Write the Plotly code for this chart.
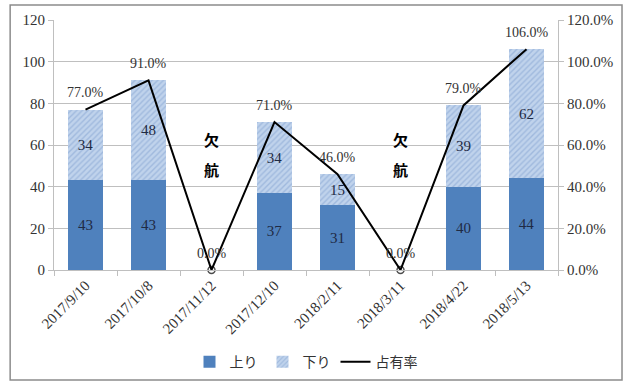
import plotly.graph_objects as go

categories = ["2017/9/10", "2017/10/8", "2017/11/12", "2017/12/10",
              "2018/2/11", "2018/3/11", "2018/4/22", "2018/5/13"]
up = [43, 43, None, 37, 31, None, 40, 44]
down = [34, 48, None, 34, 15, None, 39, 62]
share = [0.77, 0.91, 0.0, 0.71, 0.46, 0.0, 0.79, 1.06]
cancel_chars = ["欠", "航"]

serif = "Liberation Serif, DejaVu Serif, Noto Sans CJK JP, serif"
jp = "Noto Sans CJK JP, sans-serif"

fig = go.Figure()
fig.add_trace(go.Bar(
    x=categories, y=up, name="上り",
    marker=dict(color="#4f81bd", line=dict(width=0)),
    text=[str(v) if v else "" for v in up], textposition="inside",
    insidetextanchor="middle", textangle=0,
    textfont=dict(family=serif, size=15, color="#1f2a44"),
))
fig.add_trace(go.Bar(
    x=categories, y=down, name="下り",
    marker=dict(color="#a9c2e3", line=dict(width=0),
                pattern=dict(shape="/", fgcolor="#7fa0cf", bgcolor="#c0d3ec",
                             size=4, solidity=0.35)),
    text=[str(v) if v else "" for v in down], textposition="inside",
    insidetextanchor="middle", textangle=0,
    textfont=dict(family=serif, size=15, color="#1f2a44"),
))
fig.add_trace(go.Scatter(
    x=categories, y=share, name="占有率", yaxis="y2",
    mode="lines+markers", showlegend=False,
    line=dict(color="black", width=2),
    marker=dict(symbol="circle-open", color="black",
                size=[7 if v == 0 else 0 for v in share], line=dict(width=1.5)),
    cliponaxis=False,
))
fig.add_trace(go.Scatter(
    x=[None], y=[None], name="占有率", yaxis="y2", mode="lines",
    line=dict(color="black", width=2),
))

for c, v in zip(categories, share):
    fig.add_annotation(x=c, y=v, yref="y2", text=f"{v*100:.1f}%", showarrow=False,
                       yshift=17, font=dict(family=serif, size=14, color="#333333"))

for i, u in enumerate(up):
    if u is None:
        for k, ch in enumerate(cancel_chars):
            fig.add_annotation(x=categories[i], y=62.5, text=ch, showarrow=False,
                               yshift=-30 * k,
                               font=dict(family=jp, size=15, color="black", weight="bold"))

fig.add_shape(type="rect", xref="paper", yref="paper",
              x0=-0.087, x1=1.127, y0=-0.44, y1=1.06,
              line=dict(color="#8c8c8c", width=1.5), layer="below")

fig.update_layout(
    width=630, height=385,
    margin=dict(l=54, r=72, t=20, b=115, autoexpand=False),
    barmode="stack", bargap=0.43,
    plot_bgcolor="white", paper_bgcolor="white",
    font=dict(family=serif, size=14, color="#333333"),
    showlegend=True,
    legend=dict(orientation="h", x=0.5, xanchor="center", y=-0.305, yanchor="top",
                bgcolor="rgba(0,0,0,0)",
                font=dict(family=jp, size=14, color="#333333"),
                traceorder="normal"),
    xaxis=dict(type="category", tickangle=-45, showgrid=False, automargin=False,
               showline=True, linecolor="#bfbfbf", ticks="outside",
               tickcolor="#bfbfbf", tickson="boundaries", ticklen=5,
               tickfont=dict(family=serif, size=15, color="#333333")),
    yaxis=dict(range=[0, 120], dtick=20, showgrid=True, gridcolor="#bfbfbf",
               showline=True, linecolor="#bfbfbf", ticks="outside", automargin=False,
               tickcolor="#bfbfbf", ticklen=5, zeroline=False,
               tickfont=dict(family=serif, size=15, color="#333333")),
    yaxis2=dict(range=[0, 1.2], dtick=0.2, tickformat=".1%", overlaying="y",
                side="right", showgrid=False, showline=True, linecolor="#bfbfbf",
                ticks="outside", tickcolor="#bfbfbf", ticklen=5, zeroline=False,
                automargin=False,
                tickfont=dict(family=serif, size=15, color="#333333")),
)

fig.write_html("out.html")
